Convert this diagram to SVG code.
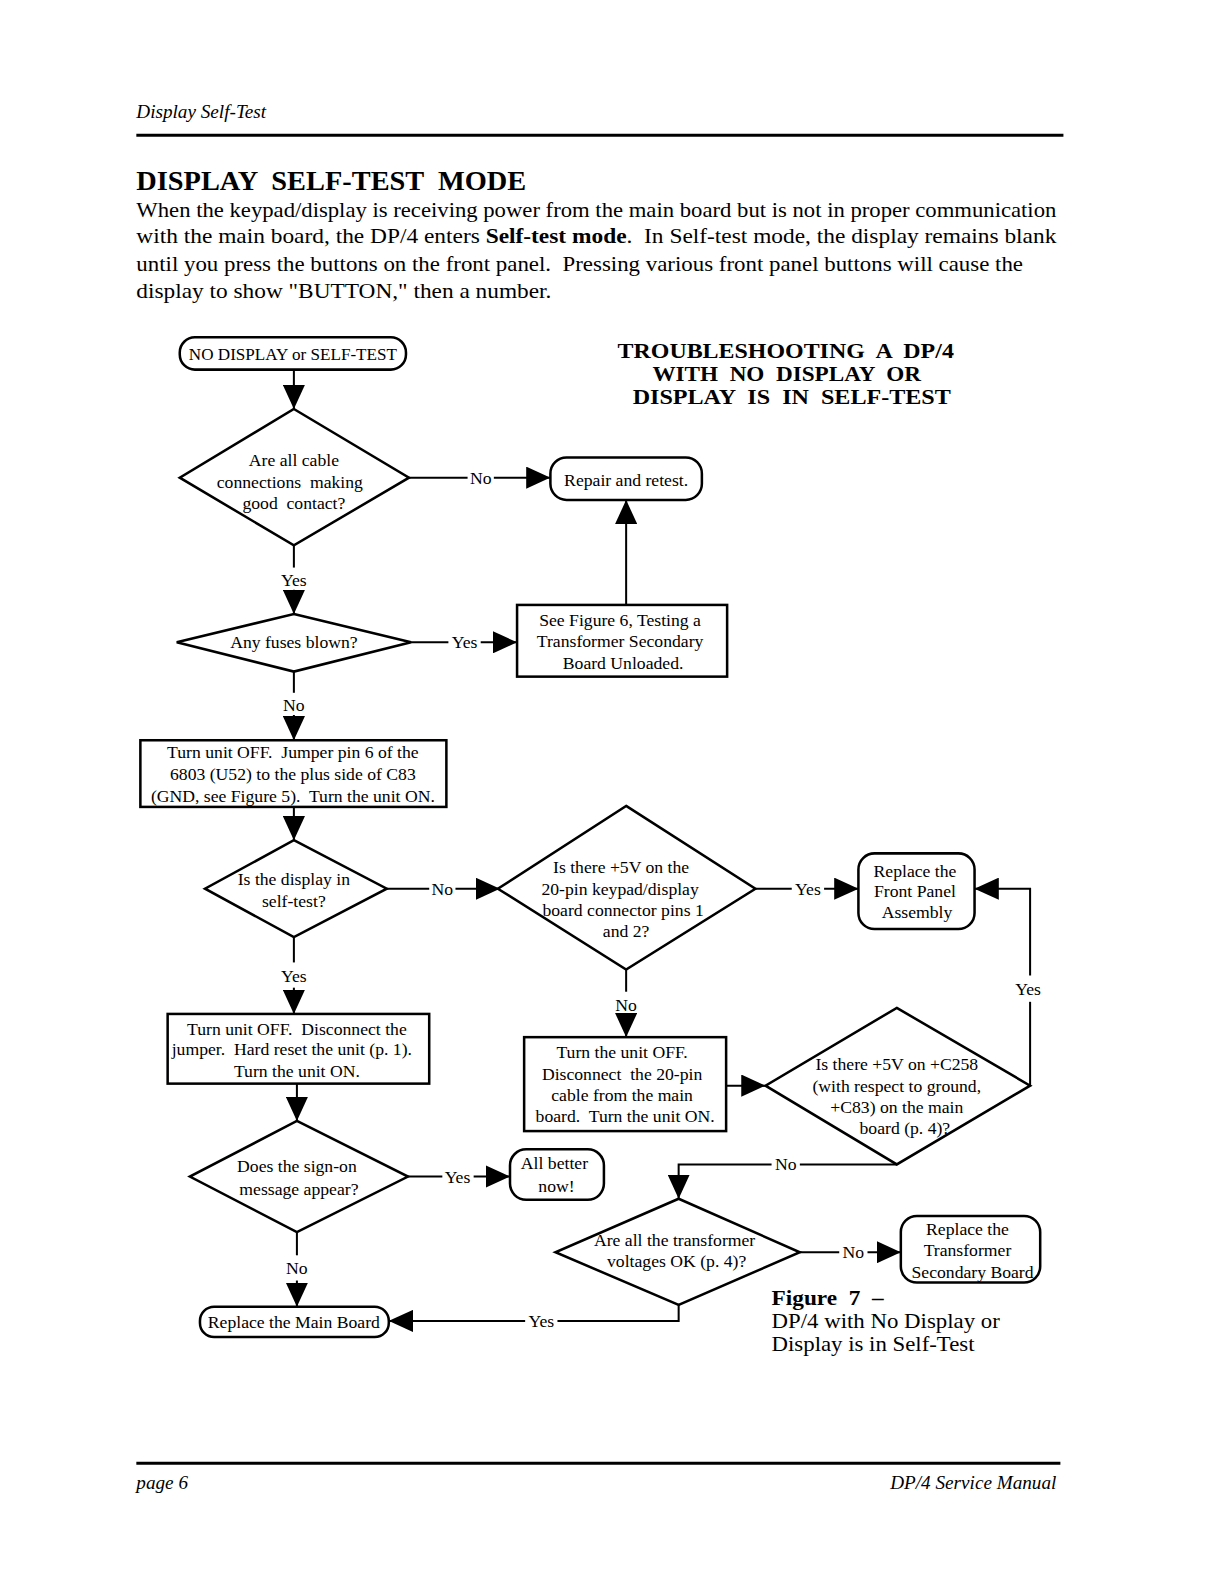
<svg xmlns="http://www.w3.org/2000/svg" width="1224" height="1584" viewBox="0 0 1224 1584" xml:space="preserve">
<defs>
<marker id="ah" markerUnits="userSpaceOnUse" markerWidth="24" markerHeight="22" refX="24" refY="11" orient="auto"><path d="M0,0 L24,11 L0,22 z" fill="#000"/></marker>
</defs>
<style>
text{white-space:pre}
.n{fill:#fff;stroke:#000;stroke-width:2.5}
.c{fill:none;stroke:#000;stroke-width:2}
.a{fill:none;stroke:#000;stroke-width:2;marker-end:url(#ah)}
.t{font-family:"Liberation Serif","Times New Roman",serif;font-size:17.5px;text-anchor:middle;fill:#000}
.p{font-family:"Liberation Serif","Times New Roman",serif;font-size:21px;fill:#000}
.h{font-family:"Liberation Serif","Times New Roman",serif;font-weight:bold;fill:#000}
.i{font-family:"Liberation Serif","Times New Roman",serif;font-style:italic;font-size:19px;fill:#000}
</style>
<rect width="1224" height="1584" fill="#fff"/>
<g transform="scale(1.0099)">
<g id="page">
<text class="i" x="135" y="117">Display Self-Test</text>
<line x1="135" y1="134" x2="1053" y2="134" stroke="#000" stroke-width="3"/>
<text class="h" x="135" y="188" font-size="26" textLength="386" lengthAdjust="spacingAndGlyphs">DISPLAY  SELF-TEST  MODE</text>
<text class="p" x="135" y="215" textLength="911" lengthAdjust="spacingAndGlyphs">When the keypad/display is receiving power from the main board but is not in proper communication</text>
<text class="p" x="135" y="241" textLength="911" lengthAdjust="spacingAndGlyphs">with the main board, the DP/4 enters <tspan font-weight="bold">Self-test mode</tspan>.  In Self-test mode, the display remains blank</text>
<text class="p" x="135" y="268" textLength="878" lengthAdjust="spacingAndGlyphs">until you press the buttons on the front panel.  Pressing various front panel buttons will cause the</text>
<text class="p" x="135" y="295" textLength="411" lengthAdjust="spacingAndGlyphs">display to show "BUTTON," then a number.</text>
<text class="h" x="778" y="354" font-size="20" text-anchor="middle" textLength="333" lengthAdjust="spacingAndGlyphs">TROUBLESHOOTING  A  DP/4</text>
<text class="h" x="779" y="377" font-size="20" text-anchor="middle" textLength="266" lengthAdjust="spacingAndGlyphs">WITH  NO  DISPLAY  OR</text>
<text class="h" x="784" y="400" font-size="20" text-anchor="middle" textLength="315" lengthAdjust="spacingAndGlyphs">DISPLAY  IS  IN  SELF-TEST</text>
<text class="h" x="764" y="1292" font-size="21" textLength="111" lengthAdjust="spacingAndGlyphs">Figure  7  –</text>
<text class="p" x="764" y="1315" textLength="226" lengthAdjust="spacingAndGlyphs">DP/4 with No Display or</text>
<text class="p" x="764" y="1338" textLength="201" lengthAdjust="spacingAndGlyphs">Display is in Self-Test</text>
<line x1="135" y1="1449" x2="1050" y2="1449" stroke="#000" stroke-width="3"/>
<text class="i" x="135" y="1474">page 6</text>
<text class="i" x="1046" y="1474" text-anchor="end">DP/4 Service Manual</text>
</g>

<g id="connectors">
<line class="a" x1="291" y1="366" x2="291" y2="405"/>
<line class="c" x1="405" y1="473" x2="463" y2="473"/>
<line class="a" x1="489" y1="473" x2="545" y2="473"/>
<text class="t" x="476" y="479">No</text>
<line class="a" x1="620" y1="599" x2="620" y2="495"/>
<line class="c" x1="291" y1="540" x2="291" y2="562"/>
<text class="t" x="291" y="580">Yes</text>
<line class="a" x1="291" y1="584" x2="291" y2="608"/>
<line class="c" x1="407" y1="636" x2="444" y2="636"/>
<text class="t" x="460" y="642">Yes</text>
<line class="a" x1="476" y1="636" x2="512" y2="636"/>
<line class="c" x1="291" y1="665" x2="291" y2="686"/>
<text class="t" x="291" y="704">No</text>
<line class="a" x1="291" y1="708" x2="291" y2="733"/>
<line class="a" x1="291" y1="799" x2="291" y2="832"/>
<line class="c" x1="383" y1="880" x2="425" y2="880"/>
<text class="t" x="438" y="886">No</text>
<line class="a" x1="451" y1="880" x2="495" y2="880"/>
<line class="c" x1="748" y1="880" x2="784" y2="880"/>
<text class="t" x="800" y="886">Yes</text>
<line class="a" x1="816" y1="880" x2="850" y2="880"/>
<line class="c" x1="1020" y1="1075" x2="1020" y2="992"/>
<text class="t" x="1018" y="985">Yes</text>
<polyline class="a" points="1020,966 1020,880 965,880"/>
<line class="c" x1="291" y1="928" x2="291" y2="953"/>
<text class="t" x="291" y="972">Yes</text>
<line class="a" x1="291" y1="978" x2="291" y2="1004"/>
<line class="c" x1="620" y1="960" x2="620" y2="982"/>
<text class="t" x="620" y="1001">No</text>
<line class="a" x1="620" y1="1004" x2="620" y2="1027"/>
<line class="a" x1="719" y1="1075" x2="758" y2="1075"/>
<line class="c" x1="888" y1="1153" x2="792" y2="1153"/>
<text class="t" x="778" y="1159">No</text>
<polyline class="a" points="764,1153 672,1153 672,1187"/>
<line class="a" x1="294" y1="1073" x2="294" y2="1110"/>
<line class="c" x1="404" y1="1165" x2="438" y2="1165"/>
<text class="t" x="453" y="1171">Yes</text>
<line class="a" x1="469" y1="1165" x2="505" y2="1165"/>
<line class="c" x1="294" y1="1220" x2="294" y2="1243"/>
<text class="t" x="294" y="1262">No</text>
<line class="a" x1="294" y1="1268" x2="294" y2="1294"/>
<line class="c" x1="792" y1="1240" x2="831" y2="1240"/>
<text class="t" x="845" y="1246">No</text>
<line class="a" x1="859" y1="1240" x2="892" y2="1240"/>
<polyline class="c" points="672,1292 672,1308 552,1308"/>
<text class="t" x="536" y="1314">Yes</text>
<line class="a" x1="520" y1="1308" x2="385" y2="1308"/>
</g>

<g id="start">
<rect class="n" x="178" y="334" width="224" height="32" rx="15"/>
<text class="t" x="290" y="356" textLength="206" lengthAdjust="spacingAndGlyphs">NO DISPLAY or SELF-TEST</text>
</g>
<g id="d-cable">
<polygon class="n" points="291,405 405,473 291,540 178,473"/>
<text class="t" x="291" y="461">Are all cable</text>
<text class="t" x="287" y="483">connections  making</text>
<text class="t" x="291" y="504">good  contact?</text>
</g>
<g id="repair">
<rect class="n" x="545" y="453" width="150" height="42" rx="16"/>
<text class="t" x="620" y="481">Repair and retest.</text>
</g>
<g id="d-fuses">
<polygon class="n" points="291,608 407,636 291,665 175,636"/>
<text class="t" x="291" y="642">Any fuses blown?</text>
</g>
<g id="fig6">
<rect class="n" x="512" y="599" width="208" height="71"/>
<text class="t" x="614" y="620">See Figure 6, Testing a</text>
<text class="t" x="614" y="641">Transformer Secondary</text>
<text class="t" x="617" y="662">Board Unloaded.</text>
</g>
<g id="jumper">
<rect class="n" x="139" y="733" width="303" height="66"/>
<text class="t" x="290" y="751">Turn unit OFF.  Jumper pin 6 of the</text>
<text class="t" x="290" y="772">6803 (U52) to the plus side of C83</text>
<text class="t" x="290" y="794">(GND, see Figure 5).  Turn the unit ON.</text>
</g>
<g id="d-selftest">
<polygon class="n" points="291,832 383,880 291,928 203,880"/>
<text class="t" x="291" y="876">Is the display in</text>
<text class="t" x="291" y="898">self-test?</text>
</g>
<g id="d-5v">
<polygon class="n" points="620,798 748,880 620,960 493,880"/>
<text class="t" x="615" y="864">Is there +5V on the</text>
<text class="t" x="614" y="886">20-pin keypad/display</text>
<text class="t" x="617" y="907">board connector pins 1</text>
<text class="t" x="620" y="928">and 2?</text>
</g>
<g id="frontpanel">
<rect class="n" x="850" y="845" width="115" height="75" rx="16"/>
<text class="t" x="906" y="868">Replace the</text>
<text class="t" x="906" y="888">Front Panel</text>
<text class="t" x="908" y="909">Assembly</text>
</g>
<g id="reset">
<rect class="n" x="166" y="1004" width="259" height="69"/>
<text class="t" x="294" y="1025">Turn unit OFF.  Disconnect the</text>
<text class="t" x="289" y="1045">jumper.  Hard reset the unit (p. 1).</text>
<text class="t" x="294" y="1066">Turn the unit ON.</text>
</g>
<g id="disconnect">
<rect class="n" x="519" y="1027" width="200" height="93"/>
<text class="t" x="616" y="1048">Turn the unit OFF.</text>
<text class="t" x="616" y="1069">Disconnect  the 20-pin</text>
<text class="t" x="616" y="1090">cable from the main</text>
<text class="t" x="619" y="1111">board.  Turn the unit ON.</text>
</g>
<g id="d-c258">
<polygon class="n" points="888,998 1020,1075 888,1153 758,1075"/>
<text class="t" x="888" y="1060">Is there +5V on +C258</text>
<text class="t" x="888" y="1081">(with respect to ground,</text>
<text class="t" x="888" y="1102">+C83) on the main</text>
<text class="t" x="896" y="1123">board (p. 4)?</text>
</g>
<g id="d-signon">
<polygon class="n" points="294,1110 404,1165 294,1220 188,1165"/>
<text class="t" x="294" y="1161">Does the sign-on</text>
<text class="t" x="296" y="1183">message appear?</text>
</g>
<g id="allbetter">
<rect class="n" x="505" y="1138" width="93" height="50" rx="16"/>
<text class="t" x="549" y="1158">All better</text>
<text class="t" x="551" y="1180">now!</text>
</g>
<g id="mainboard">
<rect class="n" x="198" y="1294" width="187" height="30" rx="14"/>
<text class="t" x="291" y="1315">Replace the Main Board</text>
</g>
<g id="d-transformer">
<polygon class="n" points="672,1187 792,1240 672,1292 550,1240"/>
<text class="t" x="668" y="1234">Are all the transformer</text>
<text class="t" x="670" y="1255">voltages OK (p. 4)?</text>
</g>
<g id="secondary">
<rect class="n" x="892" y="1204" width="138" height="66" rx="16"/>
<text class="t" x="958" y="1223">Replace the</text>
<text class="t" x="958" y="1244">Transformer</text>
<text class="t" x="963" y="1265">Secondary Board</text>
</g>
</g>
</svg>
